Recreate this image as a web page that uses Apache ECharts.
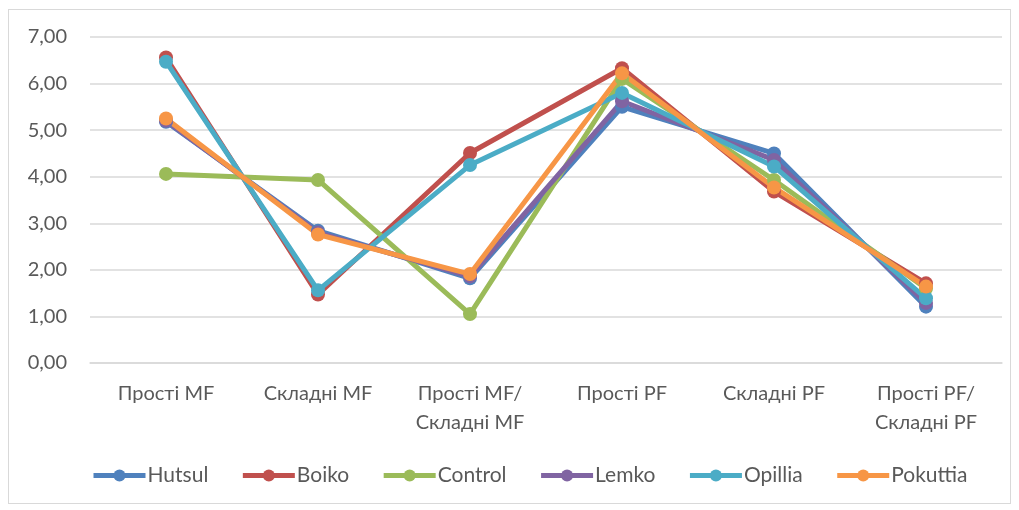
<!DOCTYPE html>
<html>
<head>
<meta charset="utf-8">
<script src="https://cdn.jsdelivr.net/npm/echarts@6/dist/echarts.min.js"></script>
<style>
  html, body { margin: 0; padding: 0; background: #fff; }
  #frame { position: absolute; left: 8px; top: 9px; width: 1003px; height: 495px; border: 1px solid #d9d9d9; box-sizing: border-box; }
  #chart { position: absolute; left: 0; top: 0; width: 1019px; height: 510px; }
</style>
</head>
<body>
<div id="frame"></div>
<div id="chart"></div>
<script>
// категории по оси X
const categories = ['Прості MF', 'Складні MF', 'Прості MF/\nСкладні MF', 'Прості PF', 'Складні PF', 'Прості PF/\nСкладні PF'];

// значения по группам
const hutsul   = [5.18, 2.84, 1.82, 5.50, 4.50, 1.21];
const boiko    = [6.56, 1.47, 4.51, 6.33, 3.68, 1.71];
const control  = [4.06, 3.93, 1.05, 6.10, 3.93, 1.60];
const lemko    = [5.20, 2.80, 1.86, 5.62, 4.36, 1.29];
const opillia  = [6.47, 1.56, 4.25, 5.80, 4.22, 1.39];
const pokuttia = [5.25, 2.76, 1.91, 6.22, 3.77, 1.64];

const seriesNames = ['Hutsul', 'Boiko', 'Control', 'Lemko', 'Opillia', 'Pokuttia'];
const seriesData  = [hutsul, boiko, control, lemko, opillia, pokuttia];
const colors = ['#4F81BD', '#C0504D', '#9BBB59', '#8064A2', '#4BACC6', '#F79646'];

const font = 'Lato, "Open Sans", sans-serif';

const chart = echarts.init(document.getElementById('chart'));
chart.setOption({
  animation: false,
  backgroundColor: 'transparent',
  color: colors,
  grid: { left: 90, right: 17, top: 37, bottom: 147, containLabel: false },
  legend: {
    bottom: 19,
    left: 86,
    itemWidth: 52,
    itemHeight: 15,
    itemGap: 32,
    lineStyle: { width: 5 },
    textStyle: { color: '#595959', fontSize: 21, fontFamily: font, padding: [0, 0, 0, -3] },
    data: seriesNames,
  },
  xAxis: {
    type: 'category',
    data: categories,
    boundaryGap: true,
    axisLine: { lineStyle: { color: '#d9d9d9', width: 1.5 } },
    axisTick: { show: false },
    axisLabel: { color: '#595959', fontSize: 20, fontFamily: font, margin: 16, lineHeight: 29 },
  },
  yAxis: {
    type: 'value',
    min: 0,
    max: 7,
    interval: 1,
    axisLine: { show: false },
    axisTick: { show: false },
    splitLine: { lineStyle: { color: '#d9d9d9', width: 1.5 } },
    axisLabel: {
      color: '#595959', fontSize: 20, fontFamily: font, margin: 23,
      formatter: (v) => v.toFixed(2).replace('.', ','),
    },
  },
  series: seriesNames.map((name, i) => ({
    name,
    type: 'line',
    data: seriesData[i],
    symbol: 'circle',
    symbolSize: 14,
    lineStyle: { width: 5 },
    itemStyle: { color: colors[i] },
  })),
});
</script>
</body>
</html>
